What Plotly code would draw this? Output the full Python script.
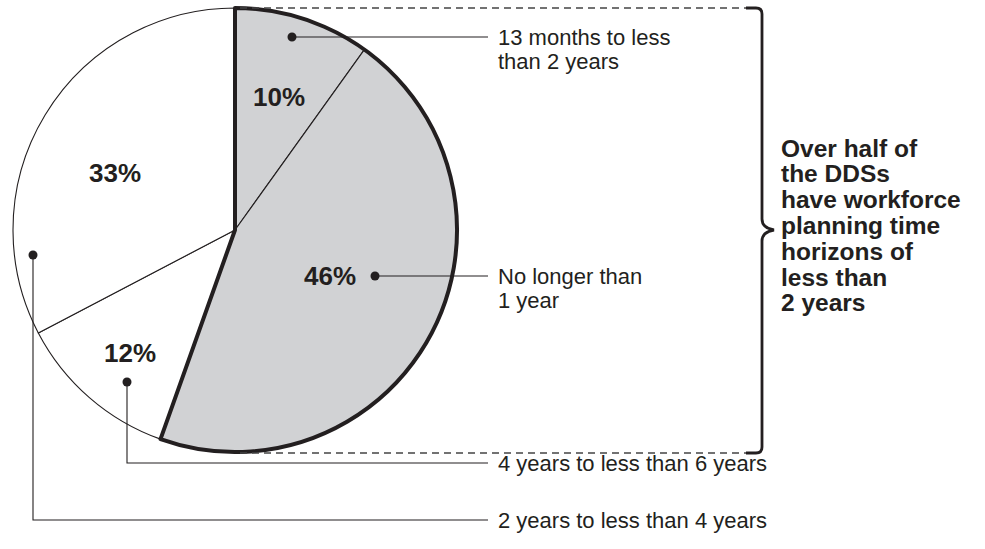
import plotly.graph_objects as go

# Share of DDSs by workforce planning time horizon
categories = [
    "13 months to less than 2 years",
    "No longer than 1 year",
    "4 years to less than 6 years",
    "2 years to less than 4 years",
]
shares = [10, 46, 12, 33]
pct_labels = ["10%", "46%", "12%", "33%"]
slice_fills = ["#d1d2d4", "#d1d2d4", "#ffffff", "#ffffff"]
label_lines = [
    ["13 months to less", "than 2 years"],
    ["No longer than", "1 year"],
    ["4 years to less than 6 years"],
    ["2 years to less than 4 years"],
]
callout_lines = ["Over half of", "the DDSs", "have workforce", "planning time",
                 "horizons of", "less than", "2 years"]

W, H = 985, 549
INK = "#231f20"
FONT = "Liberation Sans, Arial, Helvetica, sans-serif"

# pie geometry (pixels)
cx, cy, r = 235, 230, 222
dom_x = [(cx - r) / W, (cx + r) / W]
dom_y = [(H - (cy + r)) / H, (H - (cy - r)) / H]

fig = go.Figure()

# slices with thin outlines
fig.add_trace(go.Pie(
    values=shares, labels=categories, sort=False, direction="clockwise",
    rotation=0, textinfo="none", hoverinfo="label+percent",
    marker=dict(colors=slice_fills, line=dict(color=INK, width=1.1)),
    domain=dict(x=dom_x, y=dom_y), showlegend=False,
))
# heavy outline around the "under 2 years" group
under2 = shares[0] + shares[1]
rest = shares[2] + shares[3]
fig.add_trace(go.Pie(
    values=[under2, rest], labels=["under 2 years", "2 years or more"],
    sort=False, direction="clockwise", rotation=0, textinfo="none",
    hoverinfo="skip",
    marker=dict(colors=["rgba(0,0,0,0)", "rgba(0,0,0,0)"],
                line=dict(color=INK, width=[4, 0])),
    domain=dict(x=dom_x, y=dom_y), showlegend=False,
))

# invisible trace so the pixel-space axes exist for the shapes
fig.add_trace(go.Scatter(x=[0, W], y=[0, H], mode="none", hoverinfo="skip",
                         showlegend=False))

shapes = []
line_end = 488
dot_x = [292, 375, 127, 33]
dot_y = [37, 276, 382, 255]
# leader lines
shapes.append(dict(type="line", x0=dot_x[0], y0=dot_y[0], x1=line_end, y1=dot_y[0]))
shapes.append(dict(type="line", x0=dot_x[1], y0=dot_y[1], x1=line_end, y1=dot_y[1]))
shapes.append(dict(type="path", path=f"M{dot_x[2]},{dot_y[2]} L{dot_x[2]},463 L{line_end},463"))
shapes.append(dict(type="path", path=f"M{dot_x[3]},{dot_y[3]} L{dot_x[3]},520 L{line_end},520"))
for s in shapes:
    s.update(xref="x", yref="y", line=dict(color=INK, width=1.1))
# leader dots
for x, y in zip(dot_x, dot_y):
    shapes.append(dict(type="circle", xref="x", yref="y", x0=x - 4.5, x1=x + 4.5,
                       y0=y - 4.5, y1=y + 4.5, fillcolor=INK, line=dict(width=0)))

# dashed guides to the brace
for yy in (8, 453):
    shapes.append(dict(type="line", xref="x", yref="y", x0=240, y0=yy, x1=746, y1=yy,
                       line=dict(color="#444444", width=1.3, dash="7px,5px")))
# curly brace
bx, tipx, ymid = 762, 774, 230
brace = (f"M746,8 L756,8 Q{bx},8 {bx},14 L{bx},{ymid-11} "
         f"Q{bx},{ymid-2} {tipx},{ymid} Q{bx},{ymid+2} {bx},{ymid+11} "
         f"L{bx},447 Q{bx},453 756,453 L746,453")
shapes.append(dict(type="path", xref="x", yref="y", path=brace,
                   line=dict(color=INK, width=2.8)))

annotations = []
# percentage labels
pct_pos = [(279, 97), (330, 276), (130, 353), (115, 173)]
for t, (x, y) in zip(pct_labels, pct_pos):
    annotations.append(dict(x=x, y=y, text=f"<b>{t}</b>", showarrow=False,
                            xanchor="center", yanchor="middle",
                            font=dict(size=26, color=INK, family=FONT)))
# category labels
label_y = [37, 276, 463, 520]
for lines, y0 in zip(label_lines, label_y):
    for i, ln in enumerate(lines):
        annotations.append(dict(x=496, y=y0 + 24 * i, text=ln, showarrow=False,
                                xanchor="left", yanchor="middle",
                                font=dict(size=22, color=INK, family=FONT)))
# callout text
for i, ln in enumerate(callout_lines):
    annotations.append(dict(x=779, y=148 + 25.8 * i, text=f"<b>{ln}</b>", showarrow=False,
                            xanchor="left", yanchor="middle",
                            font=dict(size=24.5, color=INK, family=FONT)))

fig.update_layout(
    width=W, height=H, margin=dict(l=0, r=0, t=0, b=0),
    paper_bgcolor="white", plot_bgcolor="white",
    xaxis=dict(range=[0, W], visible=False, fixedrange=True),
    yaxis=dict(range=[H, 0], visible=False, fixedrange=True),
    shapes=shapes, annotations=annotations,
)

fig.write_html("out.html")
